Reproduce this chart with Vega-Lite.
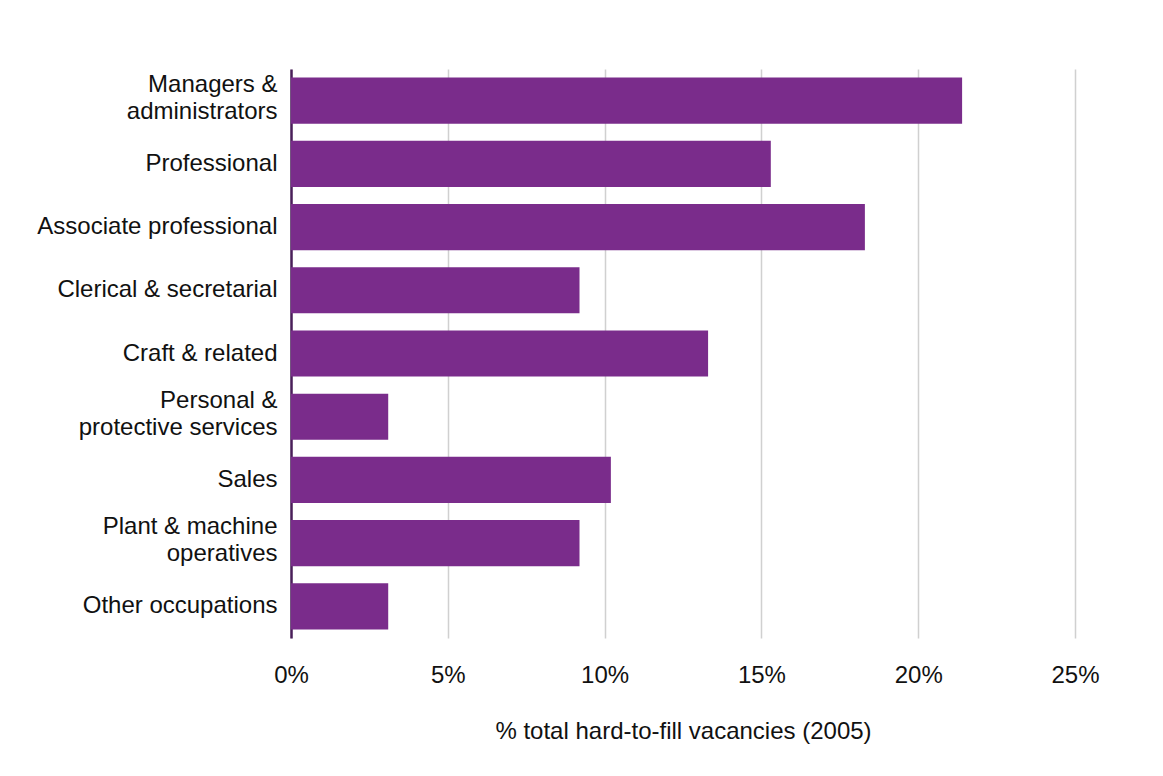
{
  "$schema": "https://vega.github.io/schema/vega-lite/v6.json",
  "autosize": "none",
  "width": 784,
  "height": 569,
  "padding": {"left": 291, "top": 69, "right": 88, "bottom": 138},
  "background": "white",
  "data": {
    "values": [
      {"occupation": "Managers & administrators", "pct": 21.4},
      {"occupation": "Professional", "pct": 15.3},
      {"occupation": "Associate professional", "pct": 18.3},
      {"occupation": "Clerical & secretarial", "pct": 9.2},
      {"occupation": "Craft & related", "pct": 13.3},
      {"occupation": "Personal & protective services", "pct": 3.1},
      {"occupation": "Sales", "pct": 10.2},
      {"occupation": "Plant & machine operatives", "pct": 9.2},
      {"occupation": "Other occupations", "pct": 3.1}
    ]
  },
  "mark": {"type": "bar", "color": "#7A2C8B"},
  "encoding": {
    "y": {
      "field": "occupation",
      "type": "nominal",
      "sort": null,
      "scale": {"paddingInner": 0.27, "paddingOuter": 0.135},
      "axis": {
        "title": null,
        "domain": true,
        "domainColor": "#4A1F5A",
        "domainWidth": 2.5,
        "ticks": false,
        "labelPadding": 14,
        "labelFont": "Liberation Sans",
        "labelFontSize": 24,
        "labelColor": "#111111",
        "labelLineHeight": 27,
        "labelLimit": 300,
        "labelOffset": {
          "condition": {"test": "indexof(['Managers & administrators', 'Personal & protective services', 'Plant & machine operatives'], datum.value) >= 0", "value": -16},
          "value": 0
        },
        "labelExpr": "datum.value == 'Managers & administrators' ? ['Managers &', 'administrators'] : datum.value == 'Personal & protective services' ? ['Personal &', 'protective services'] : datum.value == 'Plant & machine operatives' ? ['Plant & machine', 'operatives'] : datum.value"
      }
    },
    "x": {
      "field": "pct",
      "type": "quantitative",
      "scale": {"domain": [0, 25], "nice": false},
      "axis": {
        "title": "% total hard-to-fill vacancies (2005)",
        "values": [0, 5, 10, 15, 20, 25],
        "labelExpr": "datum.value + '%'",
        "labelFlush": false,
        "domain": false,
        "ticks": false,
        "grid": true,
        "gridColor": "#D0D0D0",
        "gridWidth": 1.5,
        "labelPadding": 25,
        "labelFont": "Liberation Sans",
        "labelFontSize": 24,
        "labelColor": "#111111",
        "titleFont": "Liberation Sans",
        "titleFontSize": 24,
        "titleFontWeight": "normal",
        "titleColor": "#111111",
        "titlePadding": 32
      }
    }
  },
  "config": {"view": {"stroke": null}}
}
